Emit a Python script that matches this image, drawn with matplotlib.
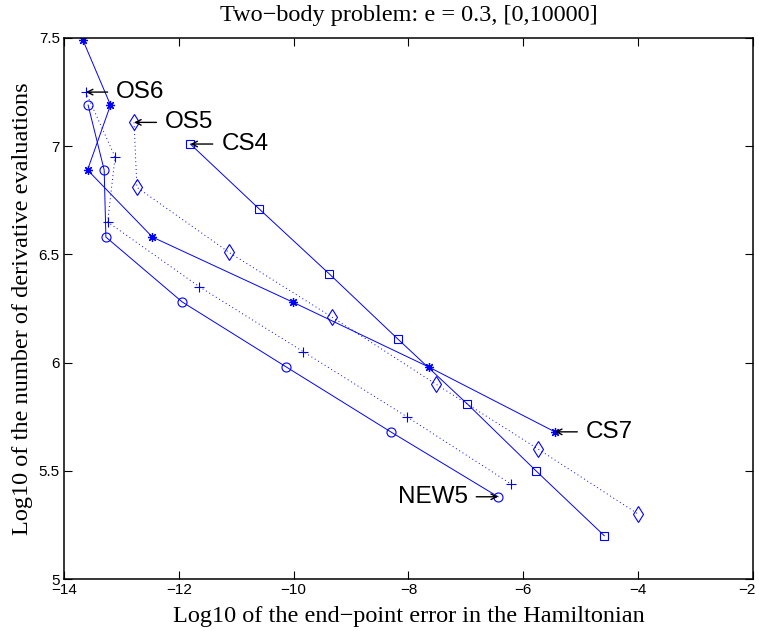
import matplotlib
matplotlib.use("Agg")
import matplotlib.pyplot as plt
import matplotlib.transforms as mtransforms

# log10 of end-point error (x) and log10 of derivative evaluations (y)
cs7_x = [-13.67, -13.19, -13.59, -12.46, -10.02, -7.65, -5.45]
cs7_y = [7.49, 7.19, 6.89, 6.58, 6.28, 5.98, 5.68]
cs4_x = [-11.80, -10.60, -9.38, -8.19, -6.98, -5.78, -4.59]
cs4_y = [7.01, 6.71, 6.41, 6.11, 5.81, 5.50, 5.20]
os5_x = [-12.78, -12.73, -11.13, -9.33, -7.52, -5.74, -4.00]
os5_y = [7.11, 6.81, 6.51, 6.21, 5.90, 5.60, 5.30]
os6_x = [-13.62, -13.11, -13.24, -11.64, -9.83, -8.03, -6.22]
os6_y = [7.25, 6.95, 6.65, 6.35, 6.05, 5.75, 5.44]
new5_x = [-13.58, -13.30, -13.27, -11.94, -10.13, -8.31, -6.44]
new5_y = [7.19, 6.89, 6.58, 6.28, 5.98, 5.68, 5.38]

xticks = [-14, -12, -10, -8, -6, -4, -2]
yticks = [5, 5.5, 6, 6.5, 7, 7.5]

fig = plt.figure(figsize=(7.59, 6.31), dpi=100)
ax = fig.add_axes([0.0843, 0.0824, 0.9078, 0.8574])

blue = (0, 0, 1)
lw = 0.7
ax.plot(cs7_x, cs7_y, '-', color=blue, lw=lw, marker=(8, 2, 0), ms=6.5, mew=0.9)
ax.plot(cs4_x, cs4_y, '-', color=blue, lw=lw, marker='s', ms=6, mfc='none', mew=0.8)
ax.plot(os5_x, os5_y, ls=(0, (1, 3)), color=blue, lw=lw, marker='d', ms=8, mfc='none', mew=0.8)
ax.plot(os6_x, os6_y, ls=(0, (1, 3)), color=blue, lw=lw, marker='+', ms=7, mew=0.8)
ax.plot(new5_x, new5_y, '-', color=blue, lw=lw, marker='o', ms=6.5, mfc='none', mew=0.8)

# labels with arrows, as in the original
lab_font = dict(family=['Liberation Sans', 'DejaVu Sans'], fontsize=17.5)
arr = dict(arrowstyle='->', color='k', lw=1, shrinkA=0, shrinkB=0, mutation_scale=10)
def label(txt, pt, dx, ha='left'):
    ax.annotate('', xy=pt, xytext=(pt[0] + dx, pt[1]), arrowprops=arr)
    off = 0.15 if dx > 0 else -0.15
    ax.text(pt[0] + dx + off, pt[1], txt, ha=ha, va='center', **lab_font)

label('OS6', (os6_x[0], os6_y[0]), 0.38)
label('OS5', (os5_x[0], os5_y[0]), 0.39)
label('CS4', (cs4_x[0], cs4_y[0]), 0.39)
label('CS7', (cs7_x[-1], cs7_y[-1]), 0.39)
label('NEW5', (new5_x[-1], new5_y[-1]), -0.38, ha='right')

ax.set_xlim(-14, -2)
ax.set_ylim(5, 7.5)
ax.set_xticks(xticks)
ax.set_yticks(yticks)
ax.set_xticklabels([str(t).replace('-', '\u2212') for t in xticks])
ax.set_yticklabels(['5', '5.5', '6', '6.5', '7', '7.5'])
ax.tick_params(direction='in', length=6, width=0.8, top=True, right=True,
               labelsize=11, pad=3)
for t in ax.get_xticklabels() + ax.get_yticklabels():
    t.set_family(['Liberation Sans', 'DejaVu Sans'])
# keep the last x tick label inside the figure
last = ax.get_xticklabels()[-1]
last.set_transform(last.get_transform() + mtransforms.ScaledTranslation(-6 / 100, 0, fig.dpi_scale_trans))
for s in ax.spines.values():
    s.set_linewidth(1.1)

serif = ['Liberation Serif', 'DejaVu Serif']
ax.text(0.5, 1.0407, 'Two\u2212body problem: e = 0.3, [0,10000]', transform=ax.transAxes,
        ha='center', va='center', family=serif, fontsize=17.5)
ax.set_xlabel('Log10 of the end\u2212point error in the Hamiltonian', family=serif,
              fontsize=17.5, va='center')
ax.xaxis.set_label_coords(0.5, -0.0702)
ax.set_ylabel('Log10 of the number of derivative evaluations', family=serif,
              fontsize=17.5, va='center')
ax.yaxis.set_label_coords(-0.0595, 0.5)

fig.savefig('out.png', dpi=100)
